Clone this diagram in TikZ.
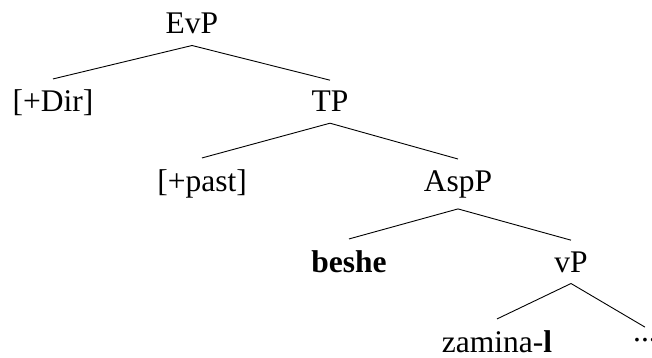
\documentclass[tikz,border=0pt]{standalone}
\usepackage{fontspec}
\setmainfont{Liberation Serif}
\begin{document}
\begin{tikzpicture}[x=1pt,y=-1pt,
  lbl/.style={anchor=base,inner xsep=0pt,inner ysep=11pt,font=\fontsize{31.5}{36}\selectfont},
  edge/.style={line width=0.9pt,black}]
\useasboundingbox (0,0) rectangle (652,358);
\node[lbl] (evp) at (192,34) {EvP};
\node[lbl] (dir) at (53,112) {[+Dir]};
\node[lbl] (tp) at (330,112) {TP};
\node[lbl] (past) at (202,191) {[+past]};
\node[lbl] (asp) at (458,191) {AspP};
\node[lbl] (beshe) at (349,272) {\textbf{beshe}};
\node[lbl] (vp) at (571,272) {vP};
\node[lbl] (zam) at (497,352) {zamina-\textbf{l}};
\node[lbl] (dots) at (645,352) {\raisebox{0.33em}{...}};
\draw[edge] (evp.south) -- (dir.north);
\draw[edge] (evp.south) -- (tp.north);
\draw[edge] (tp.south) -- (past.north);
\draw[edge] (tp.south) -- (asp.north);
\draw[edge] (asp.south) -- (beshe.north);
\draw[edge] (asp.south) -- (vp.north);
\draw[edge] (vp.south) -- (zam.north);
\draw[edge] (vp.south) -- (dots.north);
\end{tikzpicture}
\end{document}
